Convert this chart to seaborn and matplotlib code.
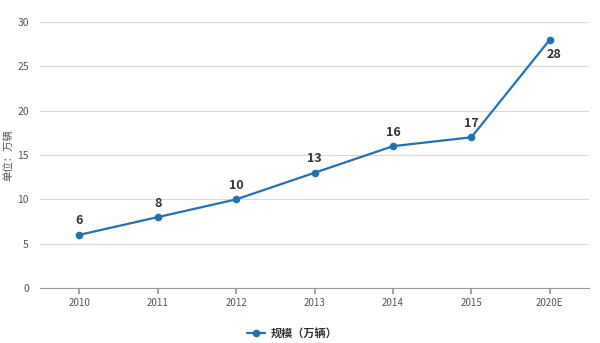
import matplotlib
matplotlib.use("Agg")
import matplotlib.pyplot as plt
import seaborn as sns
import pandas as pd

years = ["2010", "2011", "2012", "2013", "2014", "2015", "2020E"]
values = [6, 8, 10, 13, 16, 17, 28]
series_name = "规模（万辆）"
y_label = "单位：万辆"
y_ticks = [0, 5, 10, 15, 20, 25, 30]

sns.set_theme(style="white")
plt.rcParams['font.family'] = ['Noto Sans CJK SC', 'DejaVu Sans']

df = pd.DataFrame({"year": years, "value": values})
fig = plt.figure(figsize=(6, 3.43), dpi=100)
ax = fig.add_axes([0.0667, 0.160, 0.915, 0.776])

color = "#2271b3"
sns.lineplot(data=df, x="year", y="value", ax=ax, color=color, marker="o",
             markersize=5.5, markeredgewidth=0, linewidth=1.6, label=series_name, sort=False)

ax.set_xlim(-0.5, len(years) - 0.5)
ax.set_ylim(0, 30)
ax.set_yticks(y_ticks)
ax.yaxis.grid(True, color="#d9d9d9", linewidth=0.8)
ax.xaxis.grid(False)
for s in ["top", "right", "left"]:
    ax.spines[s].set_visible(False)
ax.spines["bottom"].set_color("#999999")
ax.spines["bottom"].set_linewidth(0.8)
ax.tick_params(axis="x", length=4, color="#999999", labelsize=7, labelcolor="#555555", pad=3, bottom=True)
ax.tick_params(axis="y", length=0, labelsize=7.5, labelcolor="#555555", pad=8)
ax.set_xlabel("")
ax.set_ylabel("")
fig.text(8 / 600, 1 - 155 / 343, y_label, rotation=90, ha="center", va="center",
         fontsize=7.5, color="#555555")

for i, v in enumerate(values):
    if i == len(values) - 1:
        ax.annotate(str(v), (i, v), xytext=(3, -11), textcoords="offset points",
                    ha="center", va="center", fontsize=9, fontweight="bold", color="#333333")
    else:
        ax.annotate(str(v), (i, v), xytext=(0, 10), textcoords="offset points",
                    ha="center", va="center", fontsize=9, fontweight="bold", color="#333333")

handles, labels = ax.get_legend_handles_labels()
ax.get_legend().remove()
leg = fig.legend(handles, labels, loc="center", bbox_to_anchor=(292 / 600, 1 - 333 / 343),
                 frameon=False, handlelength=1.6, handletextpad=0.5,
                 prop={"weight": "bold", "size": 8})
for t in leg.get_texts():
    t.set_color("#333333")

fig.savefig("out.png", dpi=100)
